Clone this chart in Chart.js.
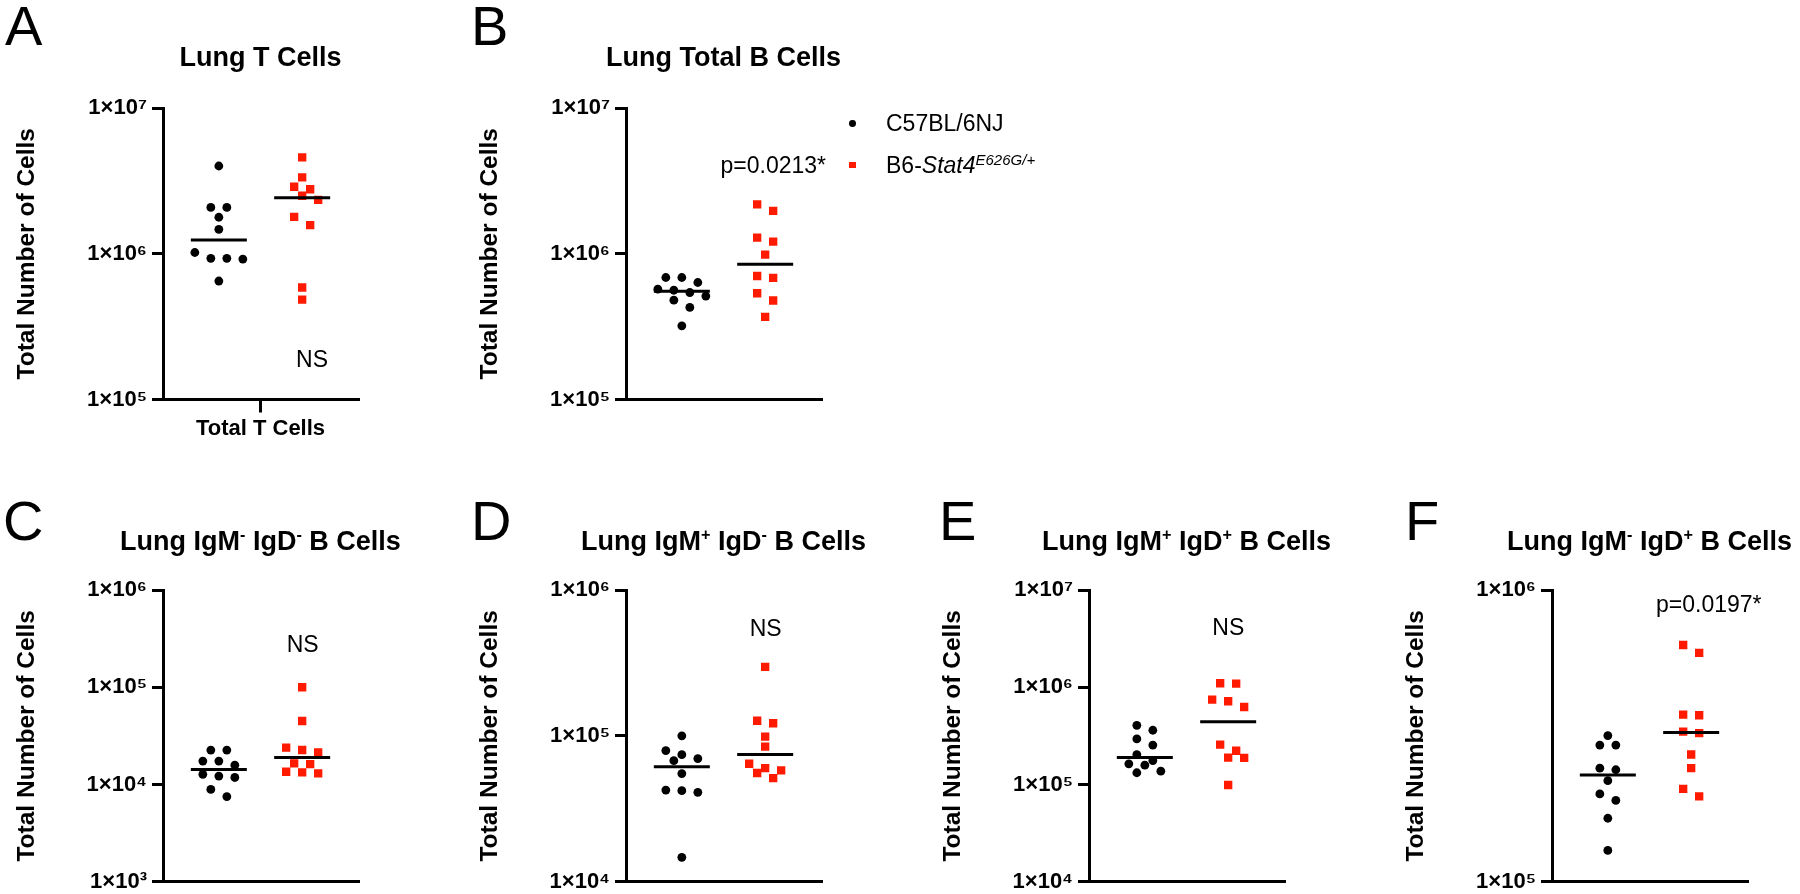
<!DOCTYPE html>
<html>
<head>
<meta charset="utf-8">
<title>Lung cell counts</title>
<script src="https://cdn.jsdelivr.net/npm/chart.js@4.4.1/dist/chart.umd.min.js"></script>
<style>
  html, body {
    margin: 0;
    padding: 0;
    background: #fff;
    width: 1800px;
    height: 894px;
    overflow: hidden;
    position: relative;
    font-family: 'Liberation Sans', Arial, sans-serif;
    color: #000;
  }
  canvas { position: absolute; }
  .txt { position: absolute; white-space: nowrap; }
  .letter { font-size: 56px; line-height: 56px; }
  .title { font-size: 27px; line-height: 27px; font-weight: bold; text-align: center; width: 420px; }
  .note { font-size: 23px; line-height: 23px; text-align: center; width: 200px; }
  .legend-text { font-size: 23px; line-height: 23px; }
  sup { font-size: 0.6em; position: relative; top: -0.6em; vertical-align: baseline; line-height: 0; }
  .legend-text sup { font-size: 15px; top: -7.7px; }
  .marker { position: absolute; }
</style>
</head>
<body>
<script>
// ---- data ----
const groupNames = ['C57BL/6NJ', 'B6-<i>Stat4</i><sup><i>E626G/+</i></sup>'];

const tCellsBlack = [4.0e6, 2.08e6, 2.08e6, 1.78e6, 1.47e6, 1.02e6, 9.3e5, 9.3e5, 9.2e5, 6.5e5];
const tCellsRed   = [4.58e6, 3.34e6, 2.88e6, 2.77e6, 2.50e6, 2.34e6, 1.79e6, 1.57e6, 5.87e5, 4.84e5];

const bCellsBlack = [6.87e5, 6.87e5, 6.35e5, 5.71e5, 5.62e5, 5.42e5, 5.12e5, 4.80e5, 4.28e5, 3.20e5];
const bCellsRed   = [2.18e6, 1.97e6, 1.29e6, 1.21e6, 9.87e5, 7.04e5, 6.83e5, 5.36e5, 4.78e5, 3.69e5];

const igmNegIgdNegBlack = [2.26e4, 2.26e4, 1.74e4, 1.74e4, 1.58e4, 1.27e4, 1.22e4, 1.18e4, 8.9e3, 7.5e3];
const igmNegIgdNegRed   = [1.0e5, 4.49e4, 2.39e4, 2.26e4, 2.14e4, 1.65e4, 1.62e4, 1.35e4, 1.33e4, 1.30e4];

const igmPosIgdNegBlack = [1.0e5, 7.93e4, 7.43e4, 6.98e4, 6.76e4, 5.51e4, 4.25e4, 4.21e4, 4.10e4, 1.47e4];
const igmPosIgdNegRed   = [2.97e5, 1.27e5, 1.22e5, 9.89e4, 8.44e4, 6.44e4, 6.01e4, 5.80e4, 5.56e4, 5.13e4];

const igmPosIgdPosBlack = [4.06e5, 3.61e5, 2.94e5, 2.54e5, 2.03e5, 1.76e5, 1.63e5, 1.58e5, 1.37e5, 1.32e5];
const igmPosIgdPosRed   = [1.10e6, 1.09e6, 7.45e5, 7.17e5, 6.26e5, 2.57e5, 2.22e5, 1.89e5, 1.88e5, 9.87e4];

const igmNegIgdPosBlack = [3.17e5, 2.94e5, 2.94e5, 2.45e5, 2.42e5, 2.22e5, 2.00e5, 1.90e5, 1.65e5, 1.28e5];
const igmNegIgdPosRed   = [6.48e5, 6.09e5, 3.74e5, 3.72e5, 3.27e5, 3.23e5, 2.73e5, 2.45e5, 2.08e5, 1.96e5];

const yTicks5to7 = [1e5, 1e6, 1e7];
const yLabels5to7 = ['1×10⁵', '1×10⁶', '1×10⁷'];
const yTicks3to6 = [1e3, 1e4, 1e5, 1e6];
const yLabels3to6 = ['1×10³', '1×10⁴', '1×10⁵', '1×10⁶'];
const yTicks4to6 = [1e4, 1e5, 1e6];
const yLabels4to6 = ['1×10⁴', '1×10⁵', '1×10⁶'];
const yTicks4to7 = [1e4, 1e5, 1e6, 1e7];
const yLabels4to7 = ['1×10⁴', '1×10⁵', '1×10⁶', '1×10⁷'];
const yTicks5to6 = [1e5, 1e6];
const yLabels5to6 = ['1×10⁵', '1×10⁶'];

const xLabelsA = ['Total T Cells'];

const panelLetters = ['A', 'B', 'C', 'D', 'E', 'F'];
const panelTitles = [
    'Lung T Cells',
    'Lung Total B Cells',
    'Lung IgM<sup>-</sup> IgD<sup>-</sup> B Cells',
    'Lung IgM<sup>+</sup> IgD<sup>-</sup> B Cells',
    'Lung IgM<sup>+</sup> IgD<sup>+</sup> B Cells',
    'Lung IgM<sup>-</sup> IgD<sup>+</sup> B Cells'
];
const statLabels = ['NS', 'p=0.0213*', 'NS', 'NS', 'NS', 'p=0.0197*'];
const yAxisTitle = 'Total Number of Cells';

// ---- look ----
const RED = '#ff1a00';
const BLACK = '#000000';
const FONT = "'Liberation Sans', Arial, sans-serif";
Chart.defaults.font.family = FONT;
Chart.defaults.color = BLACK;

const PLOT_TOP = 108;
const PLOT_H = 291.5;
const AXIS_LEFT = 163;
const AXIS_W = 195;
const X_MIN = 0.33, X_MAX = 2.67;
const PX_PER_UNIT = AXIS_W / (X_MAX - X_MIN);
const SLOT_PX = 16;
const ROW_PX = 8.35;
const MIN_GAP = 9;
const MEDIAN_HALF = 0.336;

// where each panel's canvas sits on the page
const frames = [
    { left: 0,    top: 0,   w: 460, h: 440, xH: 40.5 },
    { left: 463,  top: 0,   w: 460, h: 440, xH: 40.5 },
    { left: 0,    top: 482, w: 460, h: 420, xH: 20.3 },
    { left: 463,  top: 482, w: 460, h: 420, xH: 20.3 },
    { left: 926,  top: 482, w: 460, h: 420, xH: 20.3 },
    { left: 1389, top: 482, w: 411, h: 420, xH: 20.3 }
];
const letterPos = [[5, -2.3], [471, -2.3], [3, 492.7], [471, 492.7], [939, 492.7], [1405, 492.7]];
const titleBaseline = [66.5, 66.5, 551, 551, 551, 551];
const statPos = [[312, 367.3], [773.3, 173.3], [302.7, 652.3], [765.7, 636.7], [1228.3, 635.7], [1708.8, 612.3]];

const panels = [
    { black: tCellsBlack, red: tCellsRed, yTicks: yTicks5to7, yLabels: yLabels5to7, xLabels: xLabelsA },
    { black: bCellsBlack, red: bCellsRed, yTicks: yTicks5to7, yLabels: yLabels5to7, xLabels: [] },
    { black: igmNegIgdNegBlack, red: igmNegIgdNegRed, yTicks: yTicks3to6, yLabels: yLabels3to6, xLabels: [] },
    { black: igmPosIgdNegBlack, red: igmPosIgdNegRed, yTicks: yTicks4to6, yLabels: yLabels4to6, xLabels: [] },
    { black: igmPosIgdPosBlack, red: igmPosIgdPosRed, yTicks: yTicks4to7, yLabels: yLabels4to7, xLabels: [] },
    { black: igmNegIgdPosBlack, red: igmNegIgdPosRed, yTicks: yTicks5to6, yLabels: yLabels5to6, xLabels: [] }
];

function median(values) {
    const s = [...values].sort((a, b) => a - b);
    const m = s.length / 2;
    return s.length % 2 ? s[Math.floor(m)] : (s[m - 1] + s[m]) / 2;
}

/**
 * Prism-like column scatter: points that fall in the same row are spread
 * symmetrically around the group centre; a row is nudged if it would overlap.
 */
function swarm(values, center, pxPerDecade) {
    const order = values.map((_, i) => i).sort((a, b) => values[b] - values[a]);
    const yPx = values.map(v => -Math.log10(v) * pxPerDecade);
    const placed = [];
    const xs = [];
    let i = 0;
    while (i < order.length) {
        const row = [order[i]];
        let j = i + 1;
        while (j < order.length && yPx[order[j]] - yPx[order[i]] <= ROW_PX) {
            row.push(order[j]);
            j++;
        }
        const base = row.map((_, k) => (k - (row.length - 1) / 2) * SLOT_PX);
        let shift = 0;
        for (const s of [0, 0.5, -0.5, 1, -1].map(f => f * SLOT_PX)) {
            const ok = row.every((id, k) =>
                placed.every(p => Math.hypot(p.x - (base[k] + s), p.y - yPx[id]) >= MIN_GAP));
            if (ok) { shift = s; break; }
        }
        row.forEach((id, k) => {
            const x = base[k] + shift;
            placed.push({ x, y: yPx[id] });
            xs[id] = center + x / PX_PER_UNIT;
        });
        i = j;
    }
    return xs;
}

function addText(cls, html, left, top) {
    const d = document.createElement('div');
    d.className = 'txt ' + cls;
    d.innerHTML = html;
    d.style.left = left + 'px';
    d.style.top = top + 'px';
    document.body.appendChild(d);
    return d;
}

function medianLine(values, center) {
    const m = median(values);
    return {
        data: [{ x: center - MEDIAN_HALF, y: m }, { x: center + MEDIAN_HALF, y: m }],
        showLine: true,
        borderColor: BLACK,
        borderWidth: 3,
        borderCapStyle: 'butt',
        pointRadius: 0,
        order: 0
    };
}

function buildPanel(p, idx) {
    const f = frames[idx];
    const canvas = document.createElement('canvas');
    canvas.width = f.w;
    canvas.height = f.h;
    canvas.style.left = f.left + 'px';
    canvas.style.top = f.top + 'px';
    canvas.style.width = f.w + 'px';
    canvas.style.height = f.h + 'px';
    document.body.appendChild(canvas);

    const yMin = p.yTicks[0];
    const yMax = p.yTicks[p.yTicks.length - 1];
    const pxPerDecade = PLOT_H / Math.log10(yMax / yMin);
    const blackX = swarm(p.black, 1, pxPerDecade);
    const redX = swarm(p.red, 2, pxPerDecade);
    const hasXLabel = p.xLabels.length > 0;

    new Chart(canvas, {
        type: 'scatter',
        data: {
            datasets: [
                medianLine(p.black, 1),
                medianLine(p.red, 2),
                {
                    label: groupNames[0],
                    data: p.black.map((v, i) => ({ x: blackX[i], y: v })),
                    pointStyle: 'circle',
                    pointRadius: 4.4,
                    backgroundColor: BLACK,
                    borderWidth: 0,
                    order: 1
                },
                {
                    label: groupNames[1],
                    data: p.red.map((v, i) => ({ x: redX[i], y: v })),
                    pointStyle: 'rect',
                    pointRadius: 5.9,
                    backgroundColor: RED,
                    borderWidth: 0,
                    order: 1
                }
            ]
        },
        options: {
            responsive: false,
            animation: false,
            devicePixelRatio: 1,
            events: [],
            layout: { padding: { left: 0, top: PLOT_TOP, right: f.w - (AXIS_LEFT + AXIS_W), bottom: 0 } },
            plugins: {
                legend: { display: false },
                title: { display: false },
                tooltip: { enabled: false }
            },
            scales: {
                x: {
                    type: 'linear',
                    position: 'bottom',
                    min: X_MIN,
                    max: X_MAX,
                    afterFit: s => { s.height = f.xH; },
                    afterBuildTicks: s => {
                        if (hasXLabel) s.ticks = p.xLabels.map(() => ({ value: (X_MIN + X_MAX) / 2 }));
                    },
                    grid: {
                        display: hasXLabel,
                        drawOnChartArea: false,
                        drawTicks: true,
                        tickLength: 13,
                        color: BLACK,
                        lineWidth: 3
                    },
                    border: { display: true, color: BLACK, width: 3 },
                    ticks: {
                        display: hasXLabel,
                        padding: 3.3,
                        color: BLACK,
                        maxRotation: 0,
                        font: { size: 22, weight: 'bold' },
                        callback: (v, i) => p.xLabels[i]
                    }
                },
                y: {
                    type: 'logarithmic',
                    min: yMin,
                    max: yMax,
                    afterFit: s => { s.width = AXIS_LEFT; },
                    afterBuildTicks: s => { s.ticks = p.yTicks.map(v => ({ value: v })); },
                    grid: {
                        display: true,
                        drawOnChartArea: false,
                        drawTicks: true,
                        tickLength: 11,
                        color: BLACK,
                        lineWidth: 3
                    },
                    border: { display: true, color: BLACK, width: 3 },
                    ticks: {
                        padding: 5,
                        color: BLACK,
                        font: { size: 22, weight: 'bold' },
                        callback: v => p.yLabels[p.yTicks.indexOf(v)]
                    },
                    title: {
                        display: true,
                        text: yAxisTitle,
                        color: BLACK,
                        font: { size: 24.5, weight: 'bold' },
                        padding: { top: 12.8, bottom: 0 }
                    }
                }
            }
        }
    });

    // panel letter, title and statistics label
    addText('letter', panelLetters[idx], letterPos[idx][0], letterPos[idx][1]);
    const cx = f.left + AXIS_LEFT + AXIS_W / 2;
    addText('title', panelTitles[idx], cx - 210, titleBaseline[idx] - 0.8465 * 27);
    addText('note', statLabels[idx], statPos[idx][0] - 100, statPos[idx][1] - 0.8465 * 23);
}

panels.forEach(buildPanel);

// legend (shown beside panel B)
const legendRows = [
    { shape: 'circle', color: BLACK, markerY: 123.3, baseline: 131.7 },
    { shape: 'square', color: RED, markerY: 165, baseline: 173.3 }
];
legendRows.forEach((r, i) => {
    const m = document.createElement('div');
    m.className = 'marker';
    const size = 6.8;
    m.style.width = size + 'px';
    m.style.height = size + 'px';
    m.style.left = (852.7 - size / 2) + 'px';
    m.style.top = (r.markerY - size / 2) + 'px';
    m.style.background = r.color;
    if (r.shape === 'circle') m.style.borderRadius = '50%';
    document.body.appendChild(m);
    addText('legend-text', groupNames[i], 886, r.baseline - 0.8465 * 23);
});
</script>
</body>
</html>
